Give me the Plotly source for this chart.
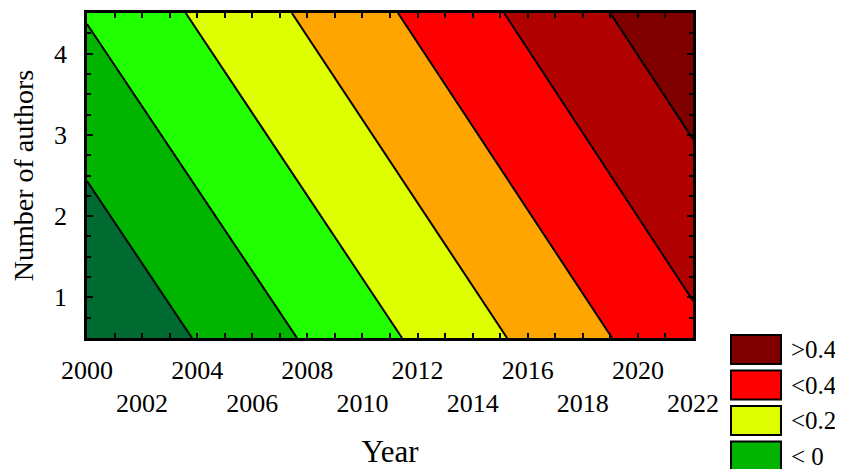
import plotly.graph_objects as go

# surface values (trend over year and authors)
years = [2000, 2022]
authors = [0.5, 4.5]
z_values = [
    [-0.300, 0.277],
    [-0.093, 0.478],
]
level_start, level_end, level_step = -0.2, 0.4, 0.1
band_colors = ["#006B30", "#00B400", "#22FF00", "#DDFF00",
               "#FFA500", "#FF0000", "#B00000", "#800000"]

row1_years = [2000, 2004, 2008, 2012, 2016, 2020]
row2_years = [2002, 2006, 2010, 2014, 2018, 2022]
all_years = list(range(2000, 2023))

legend_labels = [">0.4", "<0.4", "<0.2", "< 0"]
legend_colors = ["#800000", "#FF0000", "#DDFF00", "#00B400"]

FONT = "Liberation Serif"

n = len(band_colors)
cs = []
for i, c in enumerate(band_colors):
    lo = max(0.0, (i - 0.5) / (n - 1))
    hi = min(1.0, (i + 0.5) / (n - 1))
    cs.append([lo, c])
    cs.append([hi, c])

fig = go.Figure()
fig.add_trace(go.Contour(
    x=years, y=authors, z=z_values,
    contours=dict(start=level_start, end=level_end, size=level_step, coloring="fill"),
    colorscale=cs, showscale=False,
    line=dict(color="black", width=2, smoothing=0),
    hoverinfo="skip",
))
fig.add_trace(go.Scatter(x=[None], y=[None], xaxis="x2", yaxis="y", showlegend=False))

# page body has an 8px margin: figure is offset by 8px in the window
fig.update_layout(
    width=835, height=461,
    margin=dict(l=79, r=150, t=5, b=131),
    paper_bgcolor="white", plot_bgcolor="white",
    font=dict(family=FONT, size=26, color="black"),
    showlegend=False,
    xaxis=dict(
        range=[2000, 2022], tickmode="array", tickvals=all_years,
        ticktext=[str(y) if y in row1_years else "" for y in all_years],
        ticks="inside", ticklen=5, tickwidth=1.5, tickcolor="black",
        showline=True, linewidth=2.5, linecolor="black", mirror="ticks",
        showgrid=False, zeroline=False, ticklabelstandoff=7, automargin=False,
        title=dict(text="Year", standoff=63),
    ),
    xaxis2=dict(
        range=[2000, 2022], overlaying="x", anchor="y", side="bottom",
        tickmode="array", tickvals=row2_years, ticktext=[str(y) for y in row2_years],
        ticks="", showline=False, showgrid=False, zeroline=False,
        ticklabelstandoff=47, automargin=False,
    ),
    yaxis=dict(
        range=[0.5, 4.5], tickmode="array", tickvals=[1, 2, 3, 4],
        ticks="inside", ticklen=6, tickwidth=1.5, tickcolor="black",
        minor=dict(dtick=0.25, ticks="inside", ticklen=4, tickcolor="black", tickwidth=1.5, showgrid=False),
        showline=True, linewidth=2.5, linecolor="black", mirror="ticks",
        showgrid=False, zeroline=False, ticklabelstandoff=12, automargin=False,
        title=dict(text="Number of authors", standoff=15, font=dict(size=28)),
    ),
)

# legend drawn as boxes + labels in paper coordinates
box_h = 29 / 325
gap = 35.5 / 325
top0 = 3 / 325
for i, (lab, col) in enumerate(zip(legend_labels, legend_colors)):
    y1 = top0 - i * gap
    y0 = y1 - box_h
    fig.add_shape(type="rect", xref="paper", yref="paper",
                  x0=1.0627, x1=1.1452, y0=y0, y1=y1,
                  fillcolor=col, line=dict(color="black", width=2))
    fig.add_annotation(xref="paper", yref="paper", x=1.158, y=(y0 + y1) / 2,
                       text=lab, showarrow=False, xanchor="left", yanchor="middle",
                       font=dict(family=FONT, size=25, color="black"))

fig.write_html("out.html")
